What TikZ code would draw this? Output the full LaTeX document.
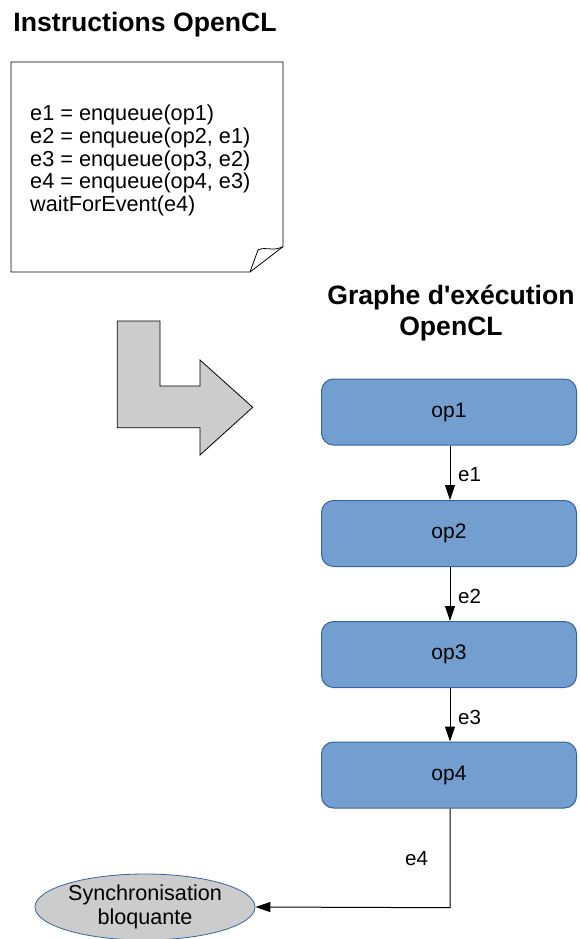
\documentclass[tikz,border=0pt]{standalone}
\usepackage{fontspec}
\setmainfont{Liberation Sans}[Ligatures=TeXOff]
\usetikzlibrary{arrows.meta,shapes.geometric}
\definecolor{opfill}{HTML}{729FCF}
\definecolor{opdraw}{HTML}{3465A4}
\definecolor{grayfill}{HTML}{CCCCCC}
\tikzset{
  opbox/.style={draw=opdraw, fill=opfill, line width=1pt, rounded corners=12pt,
    minimum width=255pt, minimum height=66pt, inner sep=0pt,
    font=\fontsize{21}{23}\selectfont},
  elab/.style={anchor=west, inner sep=0pt, font=\fontsize{20.5}{23}\selectfont},
  conn/.style={line width=1pt, -{Triangle[length=15pt,width=10pt]}},
  titlefont/.style={font=\fontsize{26.6}{31.5}\selectfont\bfseries, align=center, inner sep=0pt}
}
\begin{document}
\begin{tikzpicture}[x=1pt,y=-1pt]
\path[use as bounding box] (0,0) rectangle (580,939);
% title
\node[titlefont] (t1) at (145,25) {Instructions OpenCL};
% note
\draw[line width=0.8pt, fill=white] (11,62) -- (283,62) -- (283,246.7) -- (250,272) -- (11,272) -- cycle;
\draw[line width=0.8pt] (250,272) -- (258,250) .. controls (266,246) and (272,252) .. (283,246.7);
\node[anchor=west, align=left, inner sep=0pt, font=\fontsize{21.7}{22.8}\selectfont] (code) at (30,160.5)
  {e1 = enqueue(op1)\\e2 = enqueue(op2, e1)\\e3 = enqueue(op3, e2)\\e4 = enqueue(op4, e3)\\waitForEvent(e4)};
% bent arrow
\draw[line width=0.8pt, fill=grayfill] (117.3,321) -- (160,321) -- (160,386) -- (200,386) -- (200,360)
  -- (252.7,407.3) -- (200,455) -- (200,427.7) -- (117.3,427.7) -- cycle;
% title 2
\node[titlefont] (t2) at (451,313) {Graphe d'exécution\\OpenCL};
% ops
\node[opbox] (op1) at (449,412) {op1};
\node[opbox] (op2) at (449,533.5) {op2};
\node[opbox] (op3) at (449,654.5) {op3};
\node[opbox] (op4) at (449,775) {op4};
% ellipse
\node[ellipse, draw=opdraw, fill=grayfill, line width=0.8pt, minimum width=220pt, minimum height=66pt,
  inner sep=0pt, align=center, font=\fontsize{21.6}{23.3}\selectfont] (sync) at (145,907) {Synchronisation\\bloquante};
% connectors
\draw[conn] (op1.south -| 450,0) -- (op2.north -| 450,0);
\draw[conn] (op2.south -| 450,0) -- (op3.north -| 450,0);
\draw[conn] (op3.south -| 450,0) -- (op4.north -| 450,0);
\coordinate (bend) at (450,907.7);
\draw[conn] (op4.south -| 450,0) -- (bend) -- (sync.east);
\node[elab] (l1) at (458,475) {e1};
\node[elab] (l2) at (458,596) {e2};
\node[elab] (l3) at (458,717) {e3};
\node[elab] (l4) at (405,859) {e4};
\end{tikzpicture}
\end{document}
